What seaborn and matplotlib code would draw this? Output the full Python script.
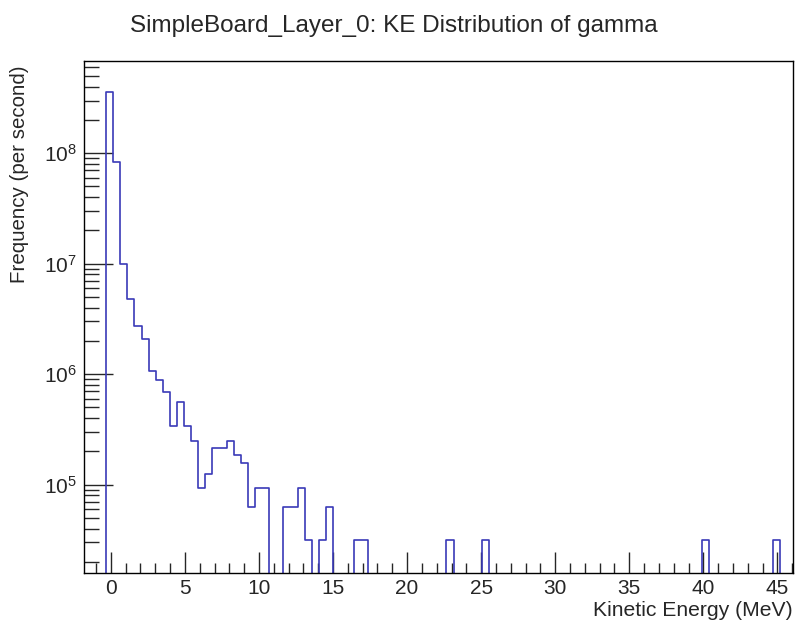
import numpy as np
import pandas as pd
import seaborn as sns
import matplotlib
matplotlib.use("Agg")
import matplotlib.pyplot as plt
from matplotlib.ticker import MultipleLocator, LogLocator, NullFormatter, FuncFormatter

# histogram contents (95 bins, per second)
unit = 31300.0
counts = [
    3.57e8, 8.3e7, 9.9e6, 4.8e6, 2.73e6, 2.08e6, 1.06e6, 8.8e5, 6.95e5, 3.4e5,
    5.55e5, 3.4e5, 2.47e5, 3 * unit, 4 * unit, 2.15e5, 2.15e5, 2.47e5, 1.87e5, 1.56e5,
    2 * unit, 3 * unit, 3 * unit, 0, 0, 2 * unit, 2 * unit, 3 * unit, unit, 0,
    unit, 2 * unit, 0, 0, 0, unit, unit, 0, 0, 0,
    0, 0, 0, 0, 0, 0, 0, 0, unit, 0,
    0, 0, 0, unit, 0, 0, 0, 0, 0, 0,
    0, 0, 0, 0, 0, 0, 0, 0, 0, 0,
    0, 0, 0, 0, 0, 0, 0, 0, 0, 0,
    0, 0, 0, 0, unit, 0, 0, 0, 0, 0,
    0, 0, 0, 0, unit,
]
ke_min, ke_max = -0.32, 45.15
title = "SimpleBoard_Layer_0: KE Distribution of gamma"
xlabel = "Kinetic Energy (MeV)"
ylabel = "Frequency (per second)"

nbins = len(counts)
edges = np.linspace(ke_min, ke_max, nbins + 1)
width = edges[1] - edges[0]
centers = 0.5 * (edges[:-1] + edges[1:])
# one empty bin either side so the outline drops to the axis like ROOT does
pad_edges = np.concatenate([[edges[0] - width], edges, [edges[-1] + width]]).tolist()
df = pd.DataFrame({"ke": centers, "rate": counts})

sns.set_style("ticks")
plt.rcParams["font.family"] = ["Liberation Sans", "DejaVu Sans"]
plt.rcParams["mathtext.fontset"] = "custom"
plt.rcParams["mathtext.rm"] = "Liberation Sans"
plt.rcParams["mathtext.it"] = "Liberation Sans"

fig = plt.figure(figsize=(7.98, 6.26), dpi=100)
ax = fig.add_axes([84 / 798, 53 / 626, 709 / 798, 512 / 626])

sns.histplot(data=df, x="ke", weights="rate", bins=pad_edges,
             element="step", fill=False, color="#3a3ab8", linewidth=1.2, ax=ax)
ax.set_yscale("log")
ax.set_xlim(-1.81, 46.05)
ax.set_ylim(10 ** 4.2, 10 ** 8.835)

ax.xaxis.set_major_locator(MultipleLocator(5))
ax.xaxis.set_minor_locator(MultipleLocator(1))
ax.yaxis.set_major_locator(LogLocator(base=10))
ax.yaxis.set_minor_locator(LogLocator(base=10, subs=np.arange(2, 10)))
ax.yaxis.set_minor_formatter(NullFormatter())
ax.yaxis.set_major_formatter(FuncFormatter(lambda v, p: r"$10^{%d}$" % round(np.log10(v))))

ax.xaxis.set_tick_params(which="major", direction="in", length=15, width=1, labelsize=15, pad=4.5)
ax.xaxis.set_tick_params(which="minor", direction="in", length=7, width=1)
ax.yaxis.set_tick_params(which="major", direction="in", length=21, width=1, labelsize=15, pad=5)
ax.yaxis.set_tick_params(which="minor", direction="in", length=11, width=1)

for s in ax.spines.values():
    s.set_visible(True)
    s.set_linewidth(1)
    s.set_color("black")

ax.set_xlabel(xlabel, fontsize=15.2, loc="right", labelpad=2)
ax.set_ylabel(ylabel, fontsize=14.8)
ax.yaxis.set_label_coords(-0.078, 0.778)
fig.text(0.494, 0.958, title, ha="center", va="center", fontsize=17.5)

fig.savefig("out.png", dpi=100)
